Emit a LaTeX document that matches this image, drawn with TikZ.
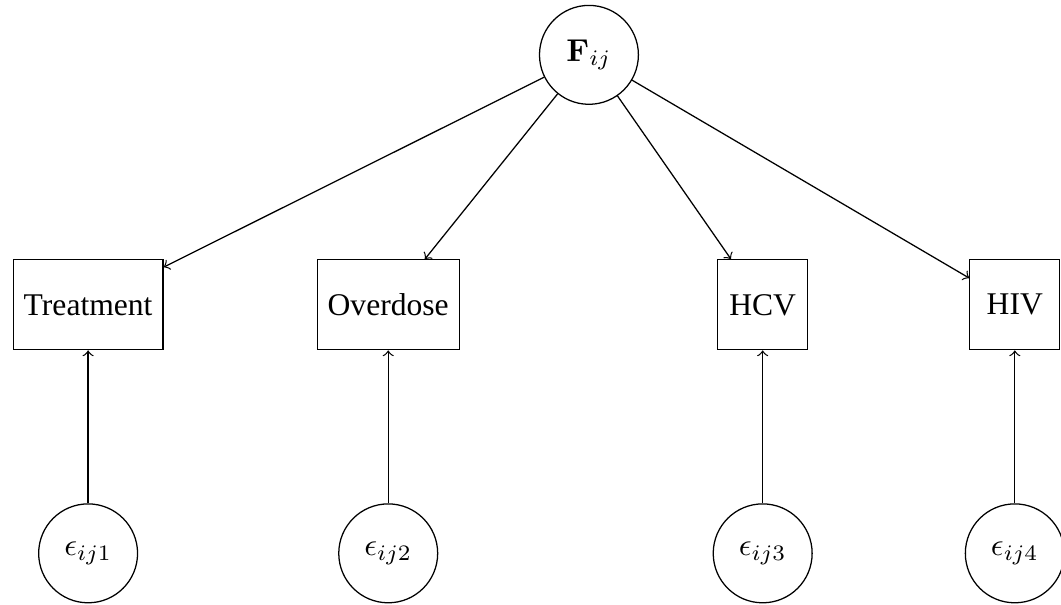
\documentclass[tikz,border=0pt]{standalone}
\usepackage[no-math]{fontspec}
\setmainfont{Liberation Serif}
\usetikzlibrary{positioning}

\tikzset{
  latent/.style={circle, draw, minimum size=1.1cm},
  manifest/.style={rectangle, draw, minimum size=1cm},
}

\begin{document}
\begin{tikzpicture}
  \useasboundingbox (0,0) rectangle (11.80,6.72);

  \node[latent] (f) at (6.55,6.11) {\(\mathbf{F}_{ij}\)};

  \node[manifest] (y1) at (0.98,3.33) {Treatment};
  \node[manifest, right=1.7cm of y1] (y2) {Overdose};
  \node[manifest, right=2.86cm of y2] (y3) {HCV};
  \node[manifest, right=1.79cm of y3] (y4) {HIV};

  \node[latent, below=1.7cm of y1] (e1) {\(\epsilon_{ij1}\)};
  \node[latent, below=1.7cm of y2] (e2) {\(\epsilon_{ij2}\)};
  \node[latent, below=1.7cm of y3] (e3) {\(\epsilon_{ij3}\)};
  \node[latent, below=1.7cm of y4] (e4) {\(\epsilon_{ij4}\)};

  % loadings
  \draw[->] (f) -- (y1);
  \draw[->] (f) -- (y2);
  \draw[->] (f) -- (y3);
  \draw[->] (f) -- (y4);

  % errors
  \draw[->] (e1) -- (y1);
  \draw[->] (e2) -- (y2);
  \draw[->] (e3) -- (y3);
  \draw[->] (e4) -- (y4);
\end{tikzpicture}
\end{document}
